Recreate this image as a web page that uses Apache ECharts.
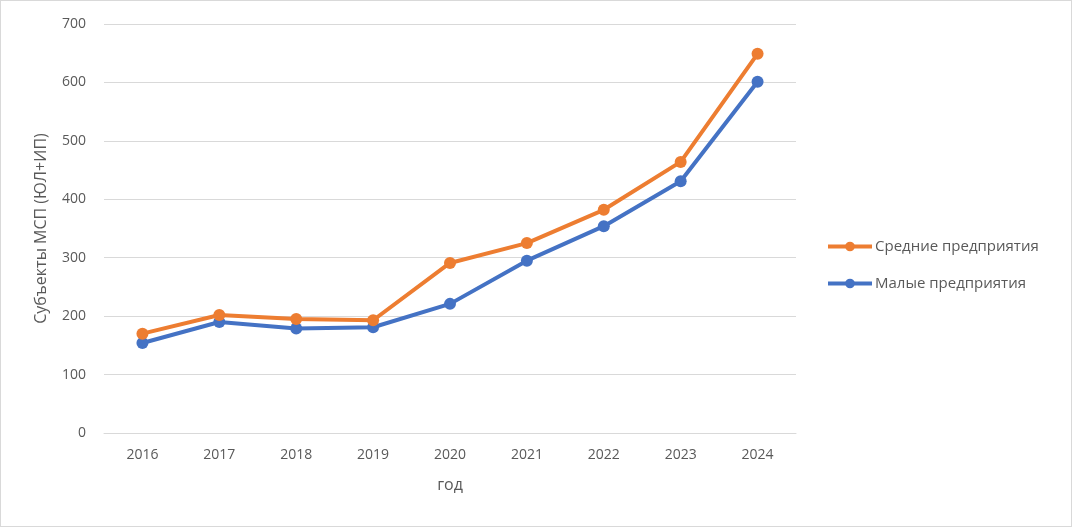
<!DOCTYPE html>
<html>
<head>
<meta charset="utf-8">
<script src="https://cdn.jsdelivr.net/npm/echarts@6/dist/echarts.min.js"></script>
<style>
  html, body { margin: 0; padding: 0; background: #fff; }
  #chart { width: 1070px; height: 525px; border: 1px solid #d9d9d9; }
</style>
</head>
<body>
<div id="chart"></div>
<script>
var years = ['2016', '2017', '2018', '2019', '2020', '2021', '2022', '2023', '2024'];
var medium = [170, 202, 195, 193, 291, 325, 382, 464, 649];
var small = [154, 190, 179, 181, 221, 295, 354, 431, 601];

var chartDom = document.getElementById('chart');
var myChart = echarts.init(chartDom);
var option;

var font = 'Open Sans';

option = {
  animation: false,
  textStyle: { fontFamily: font },
  grid: {
    left: 103,
    right: 275,
    top: 23,
    bottom: 93
  },
  legend: {
    orient: 'vertical',
    left: 820,
    top: 233,
    itemWidth: 44,
    itemHeight: 12,
    itemGap: 22,
    lineStyle: { width: 4 },
    textStyle: { color: '#595959', fontSize: 15, fontFamily: font, padding: [0, 0, 0, -2] },
    data: ['Средние предприятия', 'Малые предприятия']
  },
  xAxis: {
    type: 'category',
    data: years,
    name: 'год',
    nameLocation: 'middle',
    nameGap: 44,
    nameTextStyle: { color: '#595959', fontSize: 16 },
    axisLine: { lineStyle: { color: '#d9d9d9' } },
    axisTick: { show: false },
    axisLabel: { color: '#595959', fontSize: 14, margin: 15 }
  },
  yAxis: {
    type: 'value',
    min: 0,
    max: 700,
    interval: 100,
    name: 'Субъекты МСП (ЮЛ+ИП)',
    nameLocation: 'middle',
    nameGap: 55,
    nameTextStyle: { color: '#595959', fontSize: 16 },
    axisLine: { show: false },
    axisTick: { show: false },
    axisLabel: { color: '#595959', fontSize: 14, margin: 18 },
    splitLine: { lineStyle: { color: '#d9d9d9', width: 1 } }
  },
  series: [
    {
      name: 'Малые предприятия',
      type: 'line',
      data: small,
      symbol: 'circle',
      symbolSize: 12,
      color: '#4472c4',
      lineStyle: { width: 4 }
    },
    {
      name: 'Средние предприятия',
      type: 'line',
      data: medium,
      symbol: 'circle',
      symbolSize: 12,
      color: '#ed7d31',
      lineStyle: { width: 4 }
    }
  ]
};

option && myChart.setOption(option);
</script>
</body>
</html>
